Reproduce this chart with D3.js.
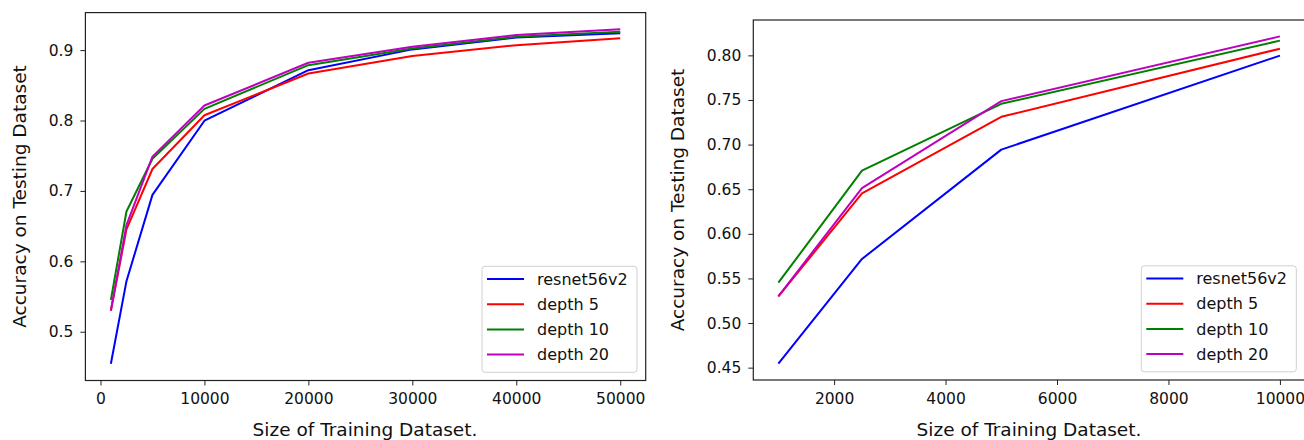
<!DOCTYPE html>
<html>
<head>
<meta charset="utf-8">
<script src="https://cdn.jsdelivr.net/npm/d3@7"></script>
<style>
    html, body { margin: 0; padding: 0; background: #fff; }
    svg { display: block; font-family: "DejaVu Sans", sans-serif; }
</style>
</head>
<body>
<svg id="chart" width="1304" height="440"></svg>
<script>
// Data
const trainSizes = [1000, 2500, 5000, 10000, 20000, 30000, 40000, 50000];
const resnet56v2 = [0.4545, 0.5718, 0.6944, 0.7997, 0.8715, 0.9010, 0.9180, 0.9238];
const depth5     = [0.5298, 0.6453, 0.7311, 0.8075, 0.8668, 0.8915, 0.9070, 0.9167];
const depth10    = [0.5452, 0.6708, 0.7457, 0.8165, 0.8786, 0.9024, 0.9190, 0.9260];
const depth20    = [0.5300, 0.6513, 0.7487, 0.8213, 0.8820, 0.9047, 0.9214, 0.9295];

const seriesNames  = ['resnet56v2', 'depth 5', 'depth 10', 'depth 20'];
const seriesColors = ['#0000ff', '#ff0000', '#008000', '#bf00bf'];
const seriesValues = [resnet56v2, depth5, depth10, depth20];

const leftXTicks  = [0, 10000, 20000, 30000, 40000, 50000];
const leftYTicks  = [0.5, 0.6, 0.7, 0.8, 0.9];
const rightXTicks = [2000, 4000, 6000, 8000, 10000];
const rightYTicks = [0.45, 0.50, 0.55, 0.60, 0.65, 0.70, 0.75, 0.80];

const xLabel = 'Size of Training Dataset.';
const yLabel = 'Accuracy on Testing Dataset';

// Font sizes
const tickFont = '15.5px';
const labelFont = '18.5px';
const legendFont = '16px';

// Panel boxes (pixel frame of each axes)
const panels = [
    { x0: 85.4, x1: 645.7, y0: 12.6, y1: 380.5, maxSize: 50000,
      xTicks: leftXTicks, yTicks: leftYTicks, yFmt: d3.format('.1f'), yLabelX: 26, xLabelX: 365 },
    { x0: 753.3, x1: 1305, y0: 20, y1: 380, maxSize: 10000,
      xTicks: rightXTicks, yTicks: rightYTicks, yFmt: d3.format('.2f'), yLabelX: 684, xLabelX: 1029 }
];

const svg = d3.select('#chart');

// matplotlib-like 5% padding
function padded(extent) {
    const pad = (extent[1] - extent[0]) * 0.05;
    return [extent[0] - pad, extent[1] + pad];
}

panels.forEach(p => {
    const idx = trainSizes.map((s, i) => i).filter(i => trainSizes[i] <= p.maxSize);
    const sizes = idx.map(i => trainSizes[i]);
    const allVals = seriesValues.flatMap(v => idx.map(i => v[i]));

    const x = d3.scaleLinear().domain(padded(d3.extent(sizes))).range([p.x0, p.x1]);
    const y = d3.scaleLinear().domain(padded(d3.extent(allVals))).range([p.y1, p.y0]);

    const g = svg.append('g');

    // Lines
    const line = d3.line().x(d => x(d[0])).y(d => y(d[1]));
    seriesValues.forEach((vals, k) => {
        g.append('path')
            .datum(idx.map(i => [trainSizes[i], vals[i]]))
            .attr('d', line)
            .attr('fill', 'none')
            .attr('stroke', seriesColors[k])
            .attr('stroke-width', 2)
            .attr('stroke-linejoin', 'round');
    });

    // Axes
    const xAxis = g.append('g')
        .attr('transform', `translate(0,${p.y1})`)
        .call(d3.axisBottom(x).tickValues(p.xTicks).tickFormat(d3.format('d')).tickSize(5).tickPadding(7.5));
    const yAxis = g.append('g')
        .attr('transform', `translate(${p.x0},0)`)
        .call(d3.axisLeft(y).tickValues(p.yTicks).tickFormat(p.yFmt).tickSize(5).tickPadding(7));
    [xAxis, yAxis].forEach(a => {
        a.select('.domain').remove();
        a.selectAll('line').attr('stroke', '#222').attr('stroke-width', 1);
        a.selectAll('text').attr('fill', '#111').style('font-size', tickFont)
            .style('font-family', '"DejaVu Sans", sans-serif');
    });

    // Frame
    g.append('rect')
        .attr('x', p.x0).attr('y', p.y0)
        .attr('width', p.x1 - p.x0).attr('height', p.y1 - p.y0)
        .attr('fill', 'none').attr('stroke', '#222').attr('stroke-width', 1.2);

    // Axis labels
    g.append('text')
        .attr('x', p.xLabelX)
        .attr('y', 436)
        .attr('text-anchor', 'middle')
        .attr('fill', '#111')
        .style('font-size', labelFont)
        .text(xLabel);
    g.append('text')
        .attr('transform', `translate(${p.yLabelX},${(p.y0 + p.y1) / 2}) rotate(-90)`)
        .attr('text-anchor', 'middle')
        .attr('fill', '#111')
        .style('font-size', labelFont)
        .text(yLabel);

    // Legend
    const lw = 155, lh = 106;
    const lx = p.x1 - 8.7 - lw, ly = p.y1 - 8.2 - lh;
    const leg = g.append('g').attr('transform', `translate(${lx},${ly})`);
    leg.append('rect')
        .attr('width', lw).attr('height', lh).attr('rx', 3)
        .attr('fill', '#fff').attr('fill-opacity', 0.8)
        .attr('stroke', '#d0d0d0').attr('stroke-width', 1);
    seriesNames.forEach((name, k) => {
        const ry = 12.7 + k * 25.2;
        leg.append('line')
            .attr('x1', 5).attr('x2', 42).attr('y1', ry).attr('y2', ry)
            .attr('stroke', seriesColors[k]).attr('stroke-width', 2);
        leg.append('text')
            .attr('x', 55).attr('y', ry).attr('dy', '0.36em')
            .attr('fill', '#111')
            .style('font-size', legendFont)
            .text(name);
    });
});
</script>
</body>
</html>
